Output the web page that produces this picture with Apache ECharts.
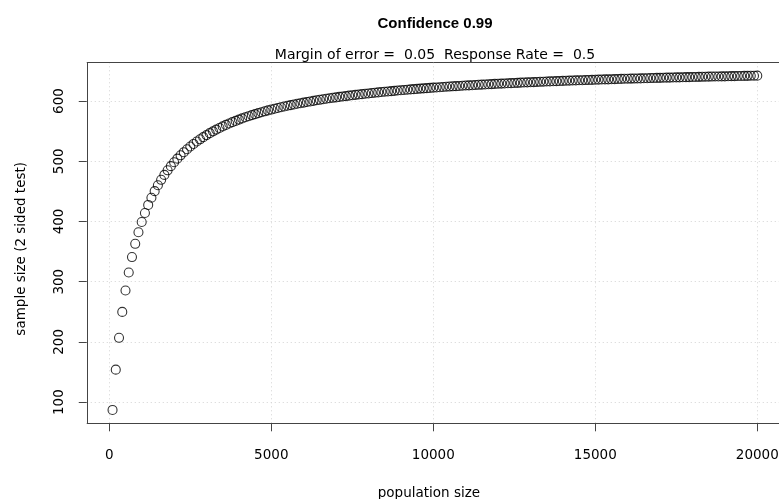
<!DOCTYPE html>
<html>
<head>
<meta charset="utf-8">
<script src="https://cdn.jsdelivr.net/npm/echarts@6/dist/echarts.min.js"></script>
<style>
  html, body { margin: 0; padding: 0; background: #fff; }
  #chart { width: 779px; height: 499px; }
</style>
</head>
<body>
<div id="chart"></div>
<script>
// population sizes on the x axis
const popSize = [
  100, 200, 300, 400, 500, 600, 700, 800, 900, 1000,
  1100, 1200, 1300, 1400, 1500, 1600, 1700, 1800, 1900, 2000,
  2100, 2200, 2300, 2400, 2500, 2600, 2700, 2800, 2900, 3000,
  3100, 3200, 3300, 3400, 3500, 3600, 3700, 3800, 3900, 4000,
  4100, 4200, 4300, 4400, 4500, 4600, 4700, 4800, 4900, 5000,
  5100, 5200, 5300, 5400, 5500, 5600, 5700, 5800, 5900, 6000,
  6100, 6200, 6300, 6400, 6500, 6600, 6700, 6800, 6900, 7000,
  7100, 7200, 7300, 7400, 7500, 7600, 7700, 7800, 7900, 8000,
  8100, 8200, 8300, 8400, 8500, 8600, 8700, 8800, 8900, 9000,
  9100, 9200, 9300, 9400, 9500, 9600, 9700, 9800, 9900, 10000,
  10100, 10200, 10300, 10400, 10500, 10600, 10700, 10800, 10900, 11000,
  11100, 11200, 11300, 11400, 11500, 11600, 11700, 11800, 11900, 12000,
  12100, 12200, 12300, 12400, 12500, 12600, 12700, 12800, 12900, 13000,
  13100, 13200, 13300, 13400, 13500, 13600, 13700, 13800, 13900, 14000,
  14100, 14200, 14300, 14400, 14500, 14600, 14700, 14800, 14900, 15000,
  15100, 15200, 15300, 15400, 15500, 15600, 15700, 15800, 15900, 16000,
  16100, 16200, 16300, 16400, 16500, 16600, 16700, 16800, 16900, 17000,
  17100, 17200, 17300, 17400, 17500, 17600, 17700, 17800, 17900, 18000,
  18100, 18200, 18300, 18400, 18500, 18600, 18700, 18800, 18900, 19000,
  19100, 19200, 19300, 19400, 19500, 19600, 19700, 19800, 19900, 20000
];

// sample size, one per population size
const sampleSize = [
  87.0, 153.9, 206.8, 249.8, 285.4, 315.3, 340.9, 362.9, 382.2, 399.1,
  414.1, 427.5, 439.5, 450.4, 460.2, 469.2, 477.4, 485.0, 491.9, 498.4,
  504.4, 509.9, 515.1, 520.0, 524.5, 528.8, 532.8, 536.5, 540.1, 543.5,
  546.7, 549.7, 552.6, 555.3, 557.9, 560.4, 562.7, 565.0, 567.1, 569.2,
  571.2, 573.1, 574.9, 576.7, 578.3, 580.0, 581.5, 583.0, 584.5, 585.9,
  587.2, 588.5, 589.8, 591.0, 592.2, 593.3, 594.4, 595.5, 596.5, 597.5,
  598.5, 599.4, 600.4, 601.3, 602.1, 603.0, 603.8, 604.6, 605.4, 606.1,
  606.9, 607.6, 608.3, 609.0, 609.6, 610.3, 610.9, 611.5, 612.2, 612.7,
  613.3, 613.9, 614.4, 615.0, 615.5, 616.0, 616.5, 617.0, 617.5, 618.0,
  618.5, 618.9, 619.4, 619.8, 620.2, 620.7, 621.1, 621.5, 621.9, 622.3,
  622.6, 623.0, 623.4, 623.8, 624.1, 624.5, 624.8, 625.1, 625.5, 625.8,
  626.1, 626.4, 626.7, 627.0, 627.3, 627.6, 627.9, 628.2, 628.5, 628.8,
  629.0, 629.3, 629.6, 629.8, 630.1, 630.3, 630.6, 630.8, 631.1, 631.3,
  631.5, 631.8, 632.0, 632.2, 632.5, 632.7, 632.9, 633.1, 633.3, 633.5,
  633.7, 633.9, 634.1, 634.3, 634.5, 634.7, 634.9, 635.1, 635.2, 635.4,
  635.6, 635.8, 636.0, 636.1, 636.3, 636.5, 636.6, 636.8, 637.0, 637.1,
  637.3, 637.4, 637.6, 637.7, 637.9, 638.0, 638.2, 638.3, 638.5, 638.6,
  638.7, 638.9, 639.0, 639.2, 639.3, 639.4, 639.6, 639.7, 639.8, 639.9,
  640.1, 640.2, 640.3, 640.4, 640.6, 640.7, 640.8, 640.9, 641.0, 641.1,
  641.3, 641.4, 641.5, 641.6, 641.7, 641.8, 641.9, 642.0, 642.1, 642.2
];

const xTicks = [0, 5000, 10000, 15000, 20000];
const yTicks = [100, 200, 300, 400, 500, 600];

// plot box range (R pads the data range by 4%)
const X_MIN = -696, X_MAX = 20796;
const Y_MIN = 64.8, Y_MAX = 664.4;

// the grid is larger than the box so the outward ticks fall well inside it
const GRID_LEFT = 74.75, GRID_TOP = 62.3, GRID_W = 708.3, GRID_H = 373;
const X_AXIS_MIN = -1066.4, X_AXIS_MAX = X_MAX;
const Y_AXIS_MIN = 44.87, Y_AXIS_MAX = Y_MAX;

const TICK_LEN = 8;
const tickDX = TICK_LEN * (X_AXIS_MAX - X_AXIS_MIN) / GRID_W;
const tickDY = TICK_LEN * (Y_AXIS_MAX - Y_AXIS_MIN) / GRID_H;

const FONT = 'DejaVu Sans';
const TITLE_FONT = 'Liberation Sans';
const gridLine = { color: '#d3d3d3', width: 1, type: [1, 3] };
const boxLine = { color: '#444', width: 1, type: 'solid' };

const chart = echarts.init(document.getElementById('chart'), null, { renderer: 'canvas' });

const points = popSize.map((p, i) => [p, sampleSize[i]]);

const seg = (a, b, style) => [{ coord: a, lineStyle: style }, { coord: b }];

// dotted guides (R's grid()), the box, and the tick marks
const guideLines = []
  .concat(xTicks.map(v => seg([v, Y_MIN], [v, Y_MAX], gridLine)))
  .concat(yTicks.map(v => seg([X_MIN, v], [X_MAX, v], gridLine)))
  .concat([
    seg([X_MIN, Y_MIN], [X_MIN, Y_MAX], boxLine),
    seg([X_MIN, Y_MIN], [X_MAX, Y_MIN], boxLine),
    seg([X_MIN, Y_MAX], [X_MAX, Y_MAX], boxLine)
  ])
  .concat(xTicks.map(v => seg([v, Y_MIN], [v, Y_MIN - tickDY], boxLine)))
  .concat(yTicks.map(v => seg([X_MIN, v], [X_MIN - tickDX, v], boxLine)));

chart.setOption({
  animation: false,
  backgroundColor: '#fff',
  textStyle: { fontFamily: FONT, color: '#000' },
  title: [
    {
      text: 'Confidence 0.99',
      left: 430, top: 11, textAlign: 'center',
      textStyle: { fontFamily: TITLE_FONT, fontSize: 15, fontWeight: 'bold', color: '#000' }
    },
    {
      text: 'Margin of error =  0.05  Response Rate =  0.5',
      left: 430, top: 43, textAlign: 'center',
      textStyle: { fontFamily: FONT, fontSize: 14, fontWeight: 'normal', color: '#000' }
    }
  ],
  grid: {
    left: GRID_LEFT, top: GRID_TOP, width: GRID_W, height: GRID_H,
    outerBoundsMode: 'none', containLabel: false, show: false
  },
  xAxis: [{
    type: 'value',
    min: X_AXIS_MIN, max: X_AXIS_MAX,
    name: 'population size',
    nameLocation: 'middle', nameGap: 51,
    nameTextStyle: { fontFamily: FONT, fontSize: 13.5, color: '#000' },
    axisLine: { show: false },
    axisTick: { show: false },
    axisLabel: {
      fontFamily: FONT, fontSize: 13.5, color: '#000', margin: 13,
      customValues: xTicks, formatter: v => String(v)
    },
    splitLine: { show: false }
  }, {
    // helper axis without zero, so the y axis stays on the left edge
    type: 'value', show: false, min: 1, max: 2
  }],
  yAxis: {
    type: 'value',
    min: Y_AXIS_MIN, max: Y_AXIS_MAX,
    name: 'sample size (2 sided test)',
    nameLocation: 'middle', nameGap: 46,
    nameTextStyle: { fontFamily: FONT, fontSize: 13.5, color: '#000' },
    axisLine: { show: false, onZeroAxisIndex: 1 },
    axisTick: { show: false },
    axisLabel: {
      fontFamily: FONT, fontSize: 13.5, color: '#000', rotate: 90,
      align: 'center', verticalAlign: 'bottom', margin: 8,
      customValues: yTicks, formatter: v => String(v)
    },
    splitLine: { show: false }
  },
  series: [{
    type: 'scatter',
    xAxisIndex: 0,
    clip: false,
    data: points,
    symbol: 'circle',
    symbolSize: 9,
    itemStyle: { color: 'rgba(0,0,0,0)', borderColor: '#000', borderWidth: 1.1 },
    markLine: {
      silent: true,
      symbol: 'none',
      label: { show: false },
      data: guideLines,
      z: 0
    }
  }]
});
</script>
</body>
</html>
